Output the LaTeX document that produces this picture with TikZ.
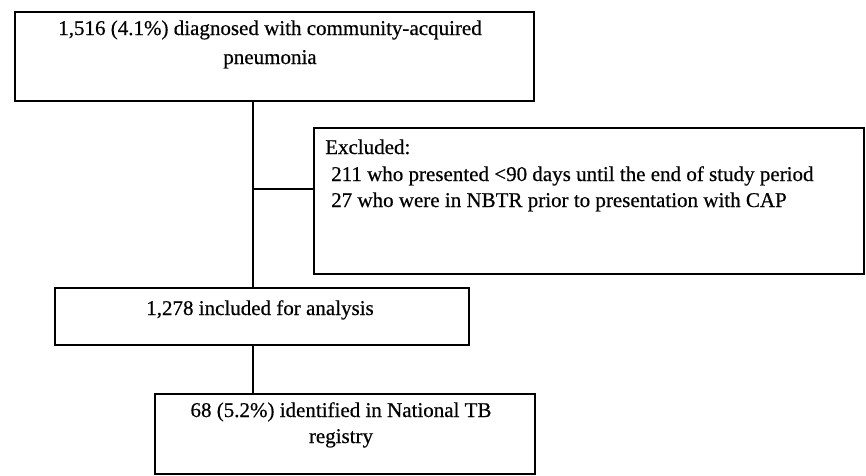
\documentclass[tikz,border=0pt]{standalone}
\usepackage{fontspec}
\setmainfont{Liberation Serif}
\newfontfamily\reffont{Liberation Serif}[FakeBold=0.5]
\begin{document}
\begin{tikzpicture}[x=1pt,y=-1pt,
  box/.style={draw=black, line width=1.9pt, inner sep=0pt, anchor=north west},
  txt/.style={font=\reffont\fontsize{21}{25}\selectfont, inner sep=0pt, text=black},
  link/.style={draw=black, line width=1.9pt}]
\useasboundingbox[fill=white] (0,0) rectangle (866,475);
% boxes
\node[box, minimum width=519pt, minimum height=89pt] (b1) at (14,11) {};
\node[box, minimum width=550pt, minimum height=146pt] (b2) at (313,127) {};
\node[box, minimum width=414pt, minimum height=57pt] (b3) at (54,287) {};
\node[box, minimum width=380pt, minimum height=80pt] (b4) at (154,393) {};
% texts
\node[txt, anchor=base] (t1a) at (270,35) {1,516 (4.1\%) diagnosed with community-acquired};
\node[txt, anchor=base] (t1b) at (270,64) {pneumonia};
\node[txt, anchor=base west] (t2a) at (325,154) {Excluded:};
\node[txt, anchor=base west] (t2b) at (331,181) {211 who presented <90 days until the end of study period};
\node[txt, anchor=base west] (t2c) at (331,207) {27 who were in NBTR prior to presentation with CAP};
\node[txt, anchor=base] (t3) at (260,315) {1,278 included for analysis};
\node[txt, anchor=base] (t4a) at (341,417) {68 (5.2\%) identified in National TB};
\node[txt, anchor=base] (t4b) at (341,443) {registry};
% connectors
\coordinate (trunk) at (253,189);
\draw[link] (b1.south -| trunk) -- (b3.north -| trunk);
\draw[link] (trunk) -- (trunk -| b2.west);
\draw[link] (b3.south -| trunk) -- (b4.north -| trunk);
\end{tikzpicture}
\end{document}
